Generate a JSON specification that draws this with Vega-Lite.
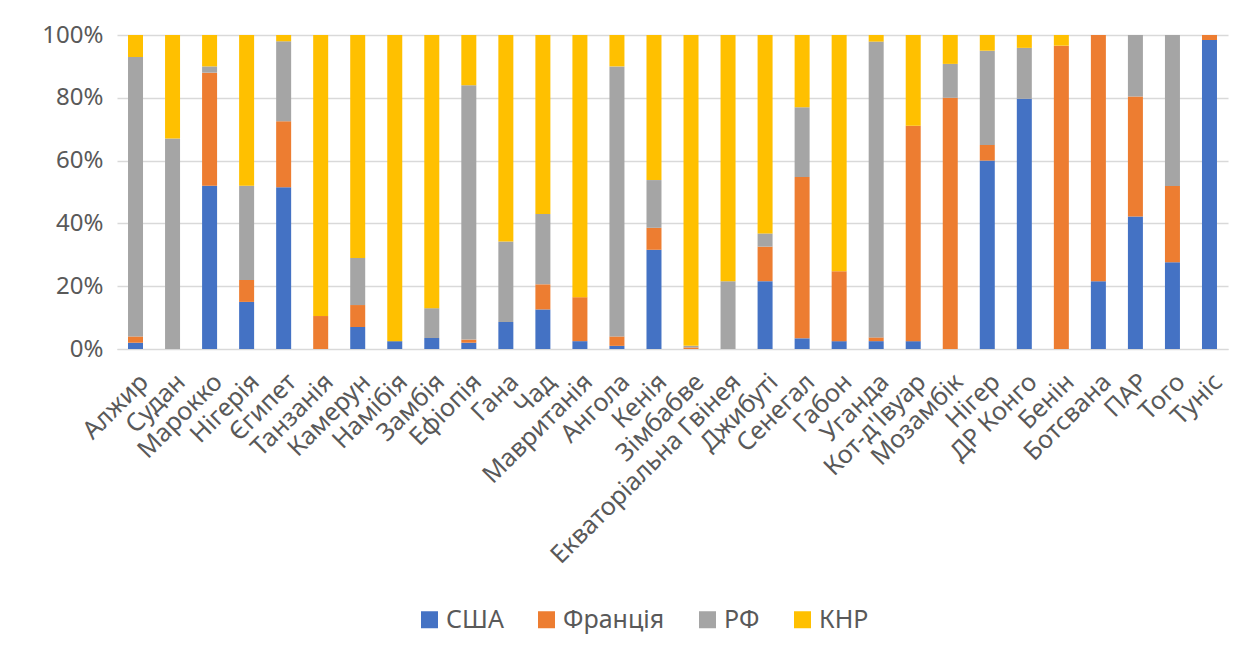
{
  "$schema": "https://vega.github.io/schema/vega-lite/v6.json",
  "width": 1111,
  "height": 314,
  "autosize": "none",
  "padding": {"left": 117, "top": 35, "right": 29, "bottom": 310},
  "background": "white",
  "datasets": {
    "shares": [
      {"country": "Алжир", "США": 2, "Франція": 2, "РФ": 89, "КНР": 7},
      {"country": "Судан", "США": 0, "Франція": 0, "РФ": 67, "КНР": 33},
      {"country": "Марокко", "США": 52, "Франція": 36, "РФ": 2, "КНР": 10},
      {"country": "Нігерія", "США": 15, "Франція": 7, "РФ": 30, "КНР": 48},
      {"country": "Єгипет", "США": 51.5, "Франція": 21, "РФ": 25.5, "КНР": 2},
      {"country": "Танзанія", "США": 0, "Франція": 10.5, "РФ": 0, "КНР": 89.5},
      {"country": "Камерун", "США": 7, "Франція": 7, "РФ": 15, "КНР": 71},
      {"country": "Намібія", "США": 2.5, "Франція": 0, "РФ": 0, "КНР": 97.5},
      {"country": "Замбія", "США": 3.5, "Франція": 0, "РФ": 9.5, "КНР": 87},
      {"country": "Ефіопія", "США": 2, "Франція": 1, "РФ": 81, "КНР": 16},
      {"country": "Гана", "США": 8.6, "Франція": 0, "РФ": 25.6, "КНР": 65.8},
      {"country": "Чад", "США": 12.6, "Франція": 8, "РФ": 22.4, "КНР": 57},
      {"country": "Мавританія", "США": 2.5, "Франція": 14, "РФ": 0, "КНР": 83.5},
      {"country": "Ангола", "США": 1, "Франція": 3, "РФ": 86, "КНР": 10},
      {"country": "Кенія", "США": 31.6, "Франція": 7, "РФ": 15.2, "КНР": 46.2},
      {"country": "Зімбабве", "США": 0, "Франція": 0.5, "РФ": 0.5, "КНР": 99},
      {"country": "Екваторіальна Гвінея", "США": 0, "Франція": 0, "РФ": 21.6, "КНР": 78.4},
      {"country": "Джибуті", "США": 21.6, "Франція": 11, "РФ": 4.2, "КНР": 63.2},
      {"country": "Сенегал", "США": 3.4, "Франція": 51.4, "РФ": 22.2, "КНР": 23},
      {"country": "Габон", "США": 2.5, "Франція": 22.3, "РФ": 0, "КНР": 75.2},
      {"country": "Уганда", "США": 2.5, "Франція": 1.2, "РФ": 94.2, "КНР": 2.1},
      {"country": "Кот-д'Івуар", "США": 2.5, "Франція": 68.6, "РФ": 0, "КНР": 28.9},
      {"country": "Мозамбік", "США": 0, "Франція": 80, "РФ": 10.8, "КНР": 9.2},
      {"country": "Нігер", "США": 60, "Франція": 5, "РФ": 30, "КНР": 5},
      {"country": "ДР Конго", "США": 79.7, "Франція": 0, "РФ": 16.2, "КНР": 4.1},
      {"country": "Бенін", "США": 0, "Франція": 96.6, "РФ": 0, "КНР": 3.4},
      {"country": "Ботсвана", "США": 21.6, "Франція": 78.4, "РФ": 0, "КНР": 0},
      {"country": "ПАР", "США": 42.2, "Франція": 38.2, "РФ": 19.6, "КНР": 0},
      {"country": "Того", "США": 27.6, "Франція": 24.3, "РФ": 48.1, "КНР": 0},
      {"country": "Туніс", "США": 98.4, "Франція": 1.6, "РФ": 0, "КНР": 0}
    ]
  },
  "data": {"name": "shares"},
  "transform": [
    {"fold": ["США", "Франція", "РФ", "КНР"], "as": ["series", "value"]},
    {"window": [{"op": "row_number", "as": "stackIdx"}], "groupby": ["country"]}
  ],
  "mark": {"type": "bar", "size": 15},
  "encoding": {
    "x": {
      "field": "country",
      "type": "nominal",
      "sort": null,
      "title": null,
      "scale": {"paddingInner": 0.6, "paddingOuter": 0.3},
      "axis": {
        "labelAngle": -45,
        "labelAlign": "right",
        "labelBaseline": "top",
        "labelFont": "Noto Sans",
        "labelFontSize": 25,
        "labelColor": "#595959",
        "labelPadding": 20,
        "ticks": false,
        "domain": true,
        "domainColor": "#d9d9d9",
        "grid": false,
        "labelLimit": 400
      }
    },
    "y": {
      "field": "value",
      "type": "quantitative",
      "stack": "normalize",
      "title": null,
      "scale": {"domain": [0, 1]},
      "axis": {
        "values": [0, 0.2, 0.4, 0.6, 0.8, 1],
        "format": ".0%",
        "labelFont": "Noto Sans",
        "labelFontSize": 24,
        "labelColor": "#595959",
        "labelPadding": 14,
        "ticks": false,
        "domain": false,
        "grid": true,
        "gridColor": "#d9d9d9",
        "gridWidth": 1.5
      }
    },
    "color": {
      "field": "series",
      "type": "nominal",
      "sort": ["США", "Франція", "РФ", "КНР"],
      "scale": {
        "domain": ["США", "Франція", "РФ", "КНР"],
        "range": ["#4472c4", "#ed7d31", "#a5a5a5", "#ffc000"]
      },
      "legend": {
        "title": null,
        "orient": "none",
        "direction": "horizontal",
        "legendX": 300,
        "legendY": 572,
        "symbolType": "square",
        "symbolSize": 289,
        "symbolStrokeWidth": 0,
        "labelFont": "Noto Sans",
        "labelFontSize": 25,
        "labelColor": "#595959",
        "labelOffset": 4,
        "columnPadding": 30
      }
    },
    "order": {"field": "stackIdx", "sort": "ascending"}
  },
  "config": {"view": {"stroke": null}}
}
